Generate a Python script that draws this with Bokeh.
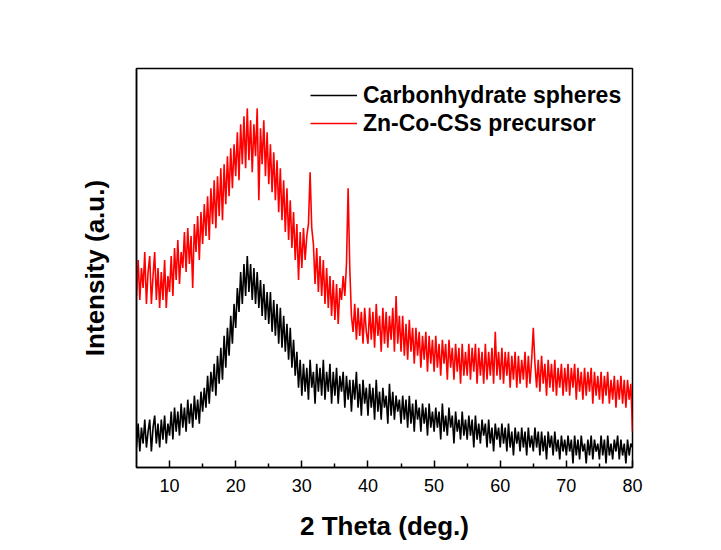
from bokeh.plotting import figure
from bokeh.models import Range1d, FixedTicker, Legend, LegendItem
from bokeh.embed import file_html
from bokeh.resources import INLINE

# 2 theta grid (deg.), 0.25 step from 5 to 80
theta = [round(5 + 0.25 * i, 2) for i in range(301)]

carbon_spheres = [
    5, 11, 4, 10, 6, 12, 5, 9, 12, 4, 10, 13, 6, 11, 5, 12, 7, 13, 6, 11,
    8, 14, 7, 15, 9, 14, 8, 16, 10, 15, 9, 17, 11, 16, 10, 18, 12, 17, 11, 19,
    14, 20, 15, 23, 16, 24, 19, 26, 18, 28, 21, 30, 22, 33, 25, 35, 28, 38, 31, 41,
    35, 45, 39, 49, 41, 51, 43, 53, 44, 51, 42, 50, 41, 49, 40, 47, 38, 46, 37, 44,
    36, 44, 34, 42, 33, 41, 31, 40, 30, 38, 29, 36, 27, 35, 25, 32, 23, 29, 20, 27,
    18, 26, 19, 25, 17, 27, 20, 24, 16, 26, 19, 25, 18, 27, 17, 24, 19, 26, 16, 24,
    18, 25, 16, 23, 19, 24, 15, 23, 17, 22, 14, 22, 17, 24, 15, 21, 13, 22, 16, 20,
    13, 21, 15, 20, 12, 22, 14, 19, 12, 20, 15, 18, 11, 21, 13, 19, 12, 18, 14, 17,
    11, 18, 12, 17, 10, 18, 11, 16, 9, 17, 12, 15, 9, 16, 11, 15, 8, 16, 10, 14,
    9, 15, 10, 14, 7, 16, 9, 13, 8, 15, 10, 13, 6, 14, 9, 12, 7, 14, 8, 12,
    7, 13, 8, 12, 5, 13, 7, 11, 6, 12, 8, 11, 5, 12, 6, 10, 4, 11, 7, 10,
    5, 11, 6, 10, 4, 11, 5, 9, 3, 10, 6, 9, 4, 10, 5, 9, 3, 10, 5, 8,
    4, 10, 5, 9, 3, 9, 4, 8, 2, 9, 5, 8, 3, 9, 4, 7, 2, 8, 4, 7,
    3, 8, 4, 7, 1, 8, 3, 7, 2, 8, 4, 6, 1, 7, 3, 8, 2, 7, 4, 6,
    2, 8, 3, 7, 1, 8, 3, 6, 2, 7, 4, 8, 2, 7, 3, 6, 1, 7, 3, 6, 5,
]

zn_co_precursor = [
    43, 52, 42, 50, 45, 54, 41, 49, 53, 41, 48, 54, 42, 50, 40, 49, 42, 52, 40, 48,
    44, 53, 43, 55, 47, 57, 46, 54, 50, 59, 49, 60, 51, 58, 45, 61, 54, 63, 52, 64,
    56, 66, 58, 68, 57, 70, 61, 72, 60, 73, 63, 75, 62, 76, 66, 78, 68, 80, 70, 81,
    73, 84, 72, 86, 76, 88, 75, 90, 77, 87, 74, 86, 78, 90, 67, 85, 76, 87, 73, 84,
    71, 81, 69, 79, 67, 77, 64, 75, 62, 72, 59, 70, 57, 67, 55, 64, 52, 61, 47, 59,
    50, 60, 52, 58, 61, 74, 60, 56, 46, 55, 44, 53, 43, 52, 41, 50, 40, 48, 38, 47,
    37, 46, 36, 45, 42, 48, 43, 51, 70, 50, 38, 34, 41, 32, 40, 33, 39, 31, 40, 34,
    31, 40, 32, 39, 30, 41, 33, 38, 29, 40, 31, 39, 30, 38, 32, 40, 29, 43, 31, 38,
    29, 38, 28, 36, 27, 37, 29, 35, 26, 35, 28, 34, 25, 33, 27, 34, 24, 33, 26, 32,
    24, 33, 25, 31, 23, 32, 26, 31, 22, 32, 25, 30, 22, 31, 24, 30, 21, 31, 23, 29,
    23, 31, 22, 30, 24, 31, 21, 30, 23, 29, 21, 31, 22, 29, 23, 30, 21, 34, 23, 29,
    22, 30, 21, 29, 23, 29, 20, 28, 22, 29, 20, 28, 21, 27, 22, 29, 20, 28, 21, 27,
    35, 26, 20, 27, 19, 28, 21, 26, 18, 27, 20, 26, 19, 27, 18, 25, 20, 26, 18, 25,
    19, 26, 18, 25, 20, 26, 17, 25, 19, 24, 17, 25, 18, 24, 19, 25, 16, 24, 18, 23,
    17, 24, 16, 23, 18, 24, 16, 22, 17, 23, 15, 22, 17, 23, 16, 22, 15, 22, 17, 21, 9,
]

assert len(carbon_spheres) == len(theta), len(carbon_spheres)
assert len(zn_co_precursor) == len(theta), len(zn_co_precursor)

x_ticks = [10, 20, 30, 40, 50, 60, 70, 80]
x_minor_ticks = [15, 25, 35, 45, 55, 65, 75]
series_names = ["Carbonhydrate spheres", "Zn-Co-CSs precursor"]
series_colors = ["#000000", "#FF0000"]

FONT = "Liberation Sans"

p = figure(width=721, height=550, output_backend="svg", toolbar_location=None,
           x_range=Range1d(5, 80), y_range=Range1d(0, 100),
           min_border_left=136, min_border_right=89, min_border_top=68, min_border_bottom=83)
p.background_fill_color = "white"
p.border_fill_color = "white"
p.grid.visible = False
p.outline_line_color = "black"
p.outline_line_width = 1.5

r1 = p.line(theta, carbon_spheres, line_color=series_colors[0], line_width=1.6)
r2 = p.line(theta, zn_co_precursor, line_color=series_colors[1], line_width=1.6)

xa = p.xaxis[0]
xa.ticker = FixedTicker(ticks=x_ticks, minor_ticks=x_minor_ticks)
xa.major_tick_in = 7
xa.major_tick_out = 0
xa.minor_tick_in = 4
xa.minor_tick_out = 0
xa.axis_line_width = 1.5
xa.major_tick_line_width = 1.5
xa.minor_tick_line_width = 1.5
xa.major_label_text_font = FONT
xa.major_label_text_font_size = "18px"
xa.major_label_text_color = "black"
xa.major_label_standoff = 11
xa.axis_label = "2 Theta (deg.)"
xa.axis_label_text_font = FONT
xa.axis_label_text_font_style = "bold"
xa.axis_label_text_font_size = "26px"
xa.axis_label_text_color = "black"
xa.axis_label_standoff = 16

ya = p.yaxis[0]
ya.ticker = FixedTicker(ticks=[])
ya.major_tick_line_color = None
ya.minor_tick_line_color = None
ya.axis_line_width = 1.5
ya.axis_label = "Intensity (a.u.)"
ya.axis_label_text_font = FONT
ya.axis_label_text_font_style = "bold"
ya.axis_label_text_font_size = "26px"
ya.axis_label_text_color = "black"
ya.axis_label_standoff = 27

legend = Legend(items=[LegendItem(label=series_names[0], renderers=[r1]),
                       LegendItem(label=series_names[1], renderers=[r2])],
                location=(174, 330))
legend.border_line_color = None
legend.background_fill_alpha = 0
legend.padding = 0
legend.margin = 0
legend.spacing = 0
legend.glyph_width = 47
legend.glyph_height = 28
legend.label_height = 28
legend.label_standoff = 6
legend.label_text_font = FONT
legend.label_text_font_style = "bold"
legend.label_text_font_size = "23px"
legend.label_text_color = "black"
p.add_layout(legend)

open("out.html", "w").write(file_html(p, INLINE))
